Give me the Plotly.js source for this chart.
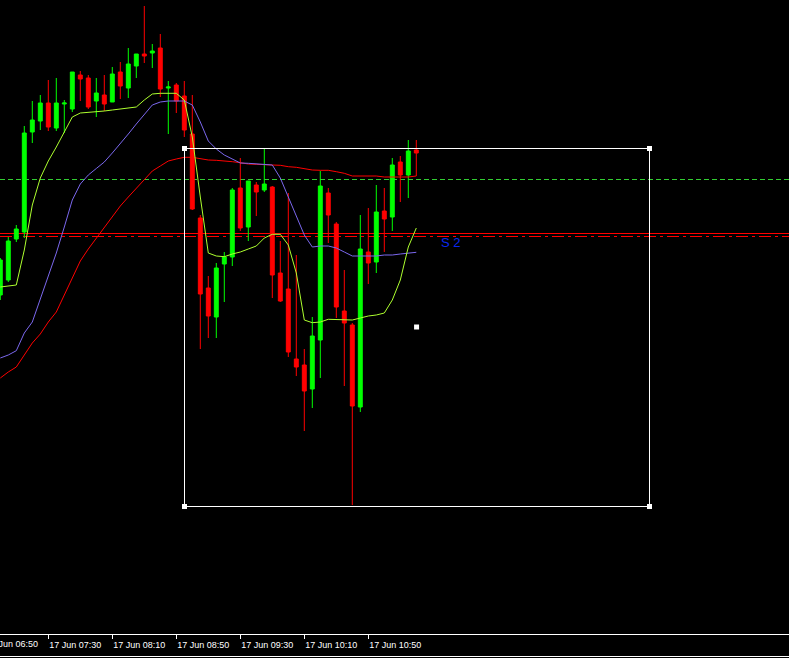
<!DOCTYPE html>
<html>
<head>
<meta charset="utf-8">
<script src="https://cdn.plot.ly/plotly-3.0.1.min.js"></script>
<style>
  html, body { margin: 0; padding: 0; background: #000; }
  #chart { width: 789px; height: 658px; }
</style>
</head>
<body>
<div id="chart"></div>
<script>
// ---- data (5-minute bars, 17 Jun) ----
const day = '2025-06-17 ';
const times = ['07:00','07:05','07:10','07:15','07:20','07:25','07:30','07:35','07:40','07:45',
  '07:50','07:55','08:00','08:05','08:10','08:15','08:20','08:25','08:30','08:35',
  '08:40','08:45','08:50','08:55','09:00','09:05','09:10','09:15','09:20','09:25',
  '09:30','09:35','09:40','09:45','09:50','09:55','10:00','10:05','10:10','10:15',
  '10:20','10:25','10:30','10:35','10:40','10:45','10:50','10:55','11:00','11:05',
  '11:10','11:15','11:20'];
const open  = [405,420,461,468,568,579,597,572,596,591,625,622,599,605,598,628,612,634,646,647,
  652,612,615,604,566,482,412,383,436,443,512,473,515,510,513,427,411,341,335,311,
  360,507,476,389,375,293,448,438,489,483,538,525,550];
const high  = [442,463,475,574,599,605,620,622,600,628,629,625,622,625,633,638,652,646,694,656,
  666,619,617,619,605,485,424,437,448,512,542,519,518,551,514,459,507,445,351,383,
  529,512,478,430,377,485,492,515,512,542,544,560,560];
const low   = [400,418,458,462,557,570,569,569,567,588,599,591,583,589,598,601,602,622,637,632,
  603,566,587,563,490,351,362,362,398,434,469,459,484,508,402,398,343,324,269,292,
  322,457,382,314,195,288,416,427,448,469,498,502,524];
const close = [440,459,471,567,580,597,573,597,597,628,621,593,607,596,626,614,636,646,644,649,
  611,613,599,570,491,406,384,432,443,510,472,519,508,516,425,399,348,333,309,364,
  514,485,393,377,294,451,437,488,481,535,525,549,547];
// moving averages
const maFast = [413,414,415,450,495,522,539,553,568,583,587,587.5,588,589,590,591,592,593,600,606,
  606.7,606.7,606.7,600,563,503,447,444,443.3,446,448,451,454,462,465.7,465.7,455,427,380,377.3,
  378,380.7,380.7,380.5,380,382,384,385,387,400,420,453,472];
const maMid = [342,345,349.3,367,378,401,424,447,473,500,516,525,531.5,538,547,556,566,576,585,595,
  598,599,599,599,595,578,559,551,545,541,537,536.7,536,535.7,535,522,503,485,465,453,
  454,454,452,448,444,444,444,444,445,445,446,446.7,447.7];
const maSlow = [322,328,333,345,357,366,378,388,405,423,439,451,462,472,483,494,503,512,521,529,
  534,539,541,542.7,542.7,541,540,539.7,539.3,538.3,537.3,536,535.7,535.7,535,534.7,533.3,532.7,531,530,
  529.7,529.7,528.3,526.7,524,524,524,524,523,523,523,523,524];
// horizontal levels
const levelGreen = 520.5;
const levelRed = 466.5;
const levelRedDash = 463.5;
// rectangle object (time, price) and its label
const rectTimes = ['08:55:07.5', '13:45:45'];
const rectPrices = [551.5, 193.5];
const rectCenter = ['11:20:10', 373];
const labelS2 = {text: 'S 2', time: '11:34:48', price: 458};
// time-axis labels
const tickTimes = ['07:30', '08:10', '08:50', '09:30', '10:10', '10:50'];

// ---- build ----
const x = times.map(t => day + t);
const rx0 = day + rectTimes[0], rx1 = day + rectTimes[1];
const rcx = day + rectCenter[0];

const traces = [
  {
    type: 'candlestick', x: x, open: open, high: high, low: low, close: close,
    increasing: {line: {color: '#00ff00', width: 1}, fillcolor: '#00ff00'},
    decreasing: {line: {color: '#ff0000', width: 1}, fillcolor: '#ff0000'},
    whiskerwidth: 0, hoverinfo: 'skip'
  },
  {type: 'scatter', mode: 'lines', x: x, y: maSlow, line: {color: '#ff0000', width: 1}, hoverinfo: 'skip'},
  {type: 'scatter', mode: 'lines', x: x, y: maMid, line: {color: '#7b68ee', width: 1}, hoverinfo: 'skip'},
  {type: 'scatter', mode: 'lines', x: x, y: maFast, line: {color: '#adff2f', width: 1}, hoverinfo: 'skip'},
  {
    type: 'scatter', mode: 'markers',
    x: [rx0, rx1, rx0, rx1, rcx],
    y: [rectPrices[0], rectPrices[0], rectPrices[1], rectPrices[1], rectCenter[1]],
    marker: {symbol: 'square', size: 5, color: '#ffffff', line: {width: 0}},
    hoverinfo: 'skip', cliponaxis: false
  }
];

const tickFont = {family: 'Liberation Sans, Arial, sans-serif', size: 9, color: '#ffffff'};

const layout = {
  width: 789, height: 658,
  paper_bgcolor: '#000000', plot_bgcolor: '#000000',
  margin: {l: 0, r: 0, t: 0, b: 24, pad: 0, autoexpand: false},
  showlegend: false,
  xaxis: {
    type: 'date',
    range: ['2025-06-17 06:59:48.75', '2025-06-17 15:12:56'],
    rangeslider: {visible: false},
    showgrid: false, zeroline: false,
    showline: true, linecolor: '#ffffff', linewidth: 1,
    ticks: 'outside', ticklen: 4, tickwidth: 1, tickcolor: '#ffffff',
    tickmode: 'array', tickvals: tickTimes.map(t => day + t),
    tickformat: '%d %b %H:%M',
    tickfont: tickFont,
    ticklabelshift: 27,
    ticklabelstandoff: -2,
    automargin: false, fixedrange: true
  },
  yaxis: {
    range: [66, 700], visible: false, showgrid: false, zeroline: false,
    automargin: false, fixedrange: true
  },
  shapes: [
    {type: 'line', xref: 'paper', x0: 0, x1: 1, yref: 'y', y0: levelGreen, y1: levelGreen,
      line: {color: '#32cd32', width: 1, dash: '5px,3px'}, layer: 'below'},
    {type: 'line', xref: 'paper', x0: 0, x1: 1, yref: 'y', y0: levelRed, y1: levelRed,
      line: {color: '#ff0000', width: 1}, layer: 'below'},
    {type: 'line', xref: 'paper', x0: 0, x1: 1, yref: 'y', y0: levelRedDash, y1: levelRedDash,
      line: {color: '#ff0000', width: 1, dash: '12px,4px,3px,4px'}, layer: 'below'},
    {type: 'rect', xref: 'x', yref: 'y', x0: rx0, x1: rx1, y0: rectPrices[1], y1: rectPrices[0],
      line: {color: '#ffffff', width: 1}, fillcolor: 'rgba(0,0,0,0)', layer: 'above'},
    {type: 'line', xref: 'paper', x0: 0, x1: 1, yref: 'paper', y0: -22.5/634, y1: -22.5/634,
      line: {color: '#ffffff', width: 1}}
  ],
  annotations: [
    {xref: 'x', yref: 'y', x: day + labelS2.time, y: labelS2.price, text: labelS2.text,
      showarrow: false, xanchor: 'left', yanchor: 'middle', borderpad: 0,
      font: {family: 'Liberation Sans, Arial, sans-serif', size: 13, color: '#0a28f0'}},
    {xref: 'paper', yref: 'paper', x: -15/789, y: -10/634, text: '17 Jun 06:50',
      showarrow: false, xanchor: 'left', yanchor: 'middle', borderpad: 0, font: tickFont}
  ]
};

Plotly.newPlot('chart', traces, layout, {displayModeBar: false, staticPlot: true});
</script>
</body>
</html>
